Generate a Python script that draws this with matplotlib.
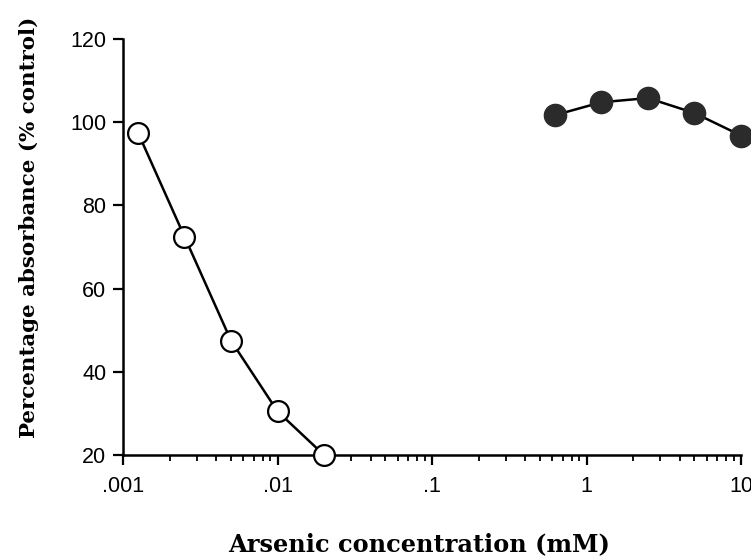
import matplotlib
matplotlib.use("Agg")
import matplotlib.pyplot as plt
from matplotlib.ticker import FixedLocator, LogLocator, NullFormatter

# Data
open_x = [0.00125, 0.0025, 0.005, 0.01, 0.02]
open_y = [97.5, 72.5, 47.5, 30.5, 20.0]
filled_x = [0.625, 1.25, 2.5, 5.0, 10.0]
filled_y = [101.7, 104.8, 105.8, 102.2, 96.8]
xtick_vals = [0.001, 0.01, 0.1, 1, 10]
xtick_labels = [".001", ".01", ".1", "1", "10"]
ytick_vals = [20, 40, 60, 80, 100, 120]

fig = plt.figure(figsize=(7.51, 5.56), dpi=100)
ax = fig.add_axes([123/751, 1-455/556, (741-123)/751, (455-39)/556])

ax.plot(open_x, open_y, '-', color='black', lw=1.8, marker='o', ms=15,
        mfc='white', mec='black', mew=1.6, clip_on=False, zorder=3)
ax.plot(filled_x, filled_y, '-', color='black', lw=1.8, marker='o', ms=16,
        mfc='#2b2b2b', mec='#2b2b2b', mew=1.0, clip_on=False, zorder=3)

ax.set_xscale('log')
ax.set_xlim(0.001, 10)
ax.set_ylim(20, 120)
ax.xaxis.set_major_locator(FixedLocator(xtick_vals))
ax.set_xticklabels(xtick_labels)
ax.xaxis.set_minor_locator(LogLocator(base=10, subs=range(2, 10), numticks=20))
ax.xaxis.set_minor_formatter(NullFormatter())
ax.set_yticks(ytick_vals)

for s in ['top', 'right']:
    ax.spines[s].set_visible(False)
for s in ['left', 'bottom']:
    ax.spines[s].set_linewidth(1.8)

ax.tick_params(axis='both', which='major', direction='out', length=7, width=1.6,
               labelsize=15.5)
ax.tick_params(axis='x', which='major', pad=8)
ax.tick_params(axis='y', which='major', pad=5)
ax.tick_params(axis='x', which='minor', direction='out', length=4, width=1.3)
for lab in ax.get_xticklabels() + ax.get_yticklabels():
    lab.set_family('Liberation Sans')

ax.set_ylabel('Percentage absorbance (% control)', family='DejaVu Serif',
              fontweight='bold', fontsize=15.4, va='center')
ax.set_xlabel('Arsenic concentration (mM)', family='DejaVu Serif',
              fontweight='bold', fontsize=17.3, va='center')
ax.yaxis.set_label_coords(29/751, 1-227/556, transform=fig.transFigure)
ax.xaxis.set_label_coords(419/751, 1-544/556, transform=fig.transFigure)

fig.savefig('out.png', dpi=100)
